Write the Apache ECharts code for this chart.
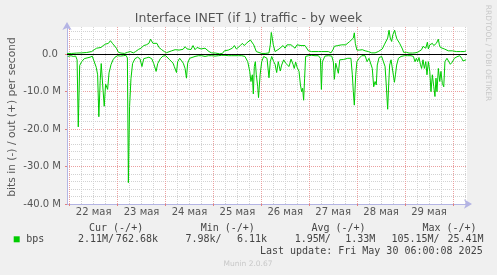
<!DOCTYPE html>
<html><head><meta charset="utf-8">
<script src="https://cdn.jsdelivr.net/npm/echarts@6/dist/echarts.min.js"></script>
<style>html,body{margin:0;padding:0;background:#f0f0f0}#c{width:497px;height:275px}</style>
</head><body><div id="c"></div>
<script>
// hours since 22 May 00:00, values in Mbit/s
const outHours = [-1.3,1.0,3.5,6.0,8.5,11.0,12.3,13.5,14.3,15.7,16.8,18.0,19.4,20.4,21.4,22.4,23.4,24.4,25.7,27.4,29.0,30.4,31.9,33.0,34.4,35.7,37.1,38.4,39.7,40.5,41.7,42.7,43.7,44.7,46.1,47.4,
  48.5,49.4,51.1,52.8,53.8,54.8,55.8,56.8,57.8,58.8,59.8,60.8,61.8,62.8,63.8,64.8,65.8,66.8,67.8,68.8,69.8,71.1,72.1,73.1,74.1,75.1,76.5,77.5,78.5,79.5,80.5,81.5,82.5,83.5,84.5,85.5,86.5,87.5,88.5,89.5,90.5,91.5,92.2,92.8,93.5,94.5,96.2,97.9,
  98.85,99.85,100.5,101.0,101.5,102.0,102.9,103.9,104.9,105.9,106.9,107.9,108.9,109.9,110.9,111.9,112.9,113.9,114.9,115.9,116.9,117.9,118.9,119.6,121.2,122.9,124.6,126.2,127.9,129.6,130.9,131.9,132.6,133.3,134.3,135.3,136.3,137.3,138.3,139.3,140.3,141.3,142.1,142.6,143.1,143.9,145.3,146.6,148.0,
  149.6,151.3,153.0,154.6,155.6,156.6,157.6,158.6,159.3,160.0,160.6,161.3,161.9,162.8,163.3,163.9,164.6,165.3,166.0,166.7,167.3,168.7,170.0,171.7,173.0,174.3,175.3,176.3,177.0,177.7,178.4,179.2,179.7,180.4,181.0,181.7,182.4,183.0,183.7,184.7,185.2,185.7,186.7,187.7,188.7,189.7,190.7,191.7,192.7,193.7,194.7,195.7,196.7,197.7,198.6];
const outMbps = [0.2,0.2,0.3,0.35,0.45,0.7,1.2,1.6,1.25,1.8,2.3,2.7,2.9,3.6,2.9,2.5,1.6,0.5,0.3,0.2,0.5,0.7,0.35,0.7,1.25,1.6,2.3,2.5,2.9,4.0,2.9,2.5,2.9,1.8,1.2,0.7,
  0.4,0.5,0.9,1.2,1.4,1.1,1.6,1.3,2.0,1.4,1.8,1.25,2.3,1.2,1.8,1.6,1.4,1.8,1.6,1.4,0.7,0.35,0.7,0.3,0.7,0.1,0.2,0.9,1.2,1.1,1.4,1.6,2.3,1.4,1.6,2.3,2.9,2.3,2.9,3.4,3.8,3.4,2.5,2.1,0.7,0.3,0.2,0.2,
  0.2,0.35,2.5,5.8,4.3,2.5,0.7,1.2,1.4,1.6,2.3,1.6,2.5,2.0,2.5,2.0,1.6,2.5,2.0,2.3,1.8,2.3,2.0,0.9,0.7,0.7,0.7,0.7,0.7,0.7,0.35,1.2,2.1,1.6,2.3,1.8,2.5,2.1,2.5,2.7,3.4,3.9,4.3,5.7,2.9,1.1,1.1,1.2,0.9,
  0.7,0.35,0.35,0.7,1.2,1.4,2.5,2.9,4.3,6.4,4.3,3.4,5.2,6.4,5.2,4.1,3.8,2.9,2.5,1.4,0.5,0.5,0.3,0.3,0.35,0.5,0.7,1.2,2.1,2.5,1.6,3.2,1.4,2.5,2.1,2.9,2.3,1.8,2.9,4.0,2.5,1.8,1.6,1.4,1.2,0.9,0.7,0.9,0.5,0.7,0.35,0.7,0.35,0.7,0.9];
const inHours = [-1.0,-0.35,0.65,1.8,3.0,3.7,4.3,5.0,6.0,7.3,8.7,10.2,11.3,12.3,13.3,14.0,14.6,15.3,15.8,16.5,17.3,18.0,18.5,19.0,19.7,20.7,21.7,22.7,24.0,25.4,26.9,28.2,28.9,29.4,30.0,30.7,31.5,32.7,34.0,35.2,36.2,37.1,38.4,39.7,41.1,42.1,43.3,44.1,45.4,46.7,
  48.1,49.1,50.1,50.8,51.8,52.4,53.5,54.1,55.1,56.1,56.9,57.8,58.5,59.1,60.1,61.1,62.8,64.5,66.1,67.8,69.5,71.1,72.8,74.5,76.1,77.8,79.5,81.2,82.8,84.5,86.2,87.8,89.2,90.2,90.8,91.5,92.0,92.5,93.0,93.5,94.2,94.6,95.4,96.2,97.2,
  97.85,98.85,99.85,100.5,101.2,102.2,102.9,103.7,104.5,105.5,106.2,107.2,108.2,109.2,109.9,110.9,111.9,112.5,113.2,114.0,114.9,115.6,116.2,116.7,117.2,117.7,118.2,119.6,121.2,122.9,124.6,125.6,126.1,126.6,127.9,129.6,131.3,132.1,132.6,133.3,133.9,134.6,135.3,136.3,137.3,138.3,139.3,140.3,140.9,141.6,142.1,142.6,143.3,143.9,145.0,146.3,
  148.0,149.0,149.95,150.95,151.6,152.3,153.0,153.6,154.1,155.0,156.3,157.3,158.0,158.6,159.3,159.8,160.3,161.0,162.0,162.7,163.2,163.8,164.7,166.0,167.7,169.3,171.0,172.2,173.0,173.7,174.3,175.0,175.7,176.3,177.0,177.7,178.4,179.0,179.7,180.4,181.0,181.7,182.4,183.0,183.5,184.0,184.7,185.4,186.0,186.7,187.4,188.0,189.0,190.0,190.7,191.7,192.7,194.0,195.4,196.4,197.0,197.7,198.6];
const inMbps = [-0.6,-1.1,-0.4,-0.6,-0.5,-1.5,-19.4,-3.0,-2.0,-1.2,-1.0,-0.8,-0.5,-1.0,-3.5,-5.5,-16.7,-7.0,-2.5,-8.0,-13.9,-8.0,-7.5,-9.4,-5.0,-2.8,-1.5,-0.8,-0.4,-0.5,-0.4,-0.3,-1.0,-34.3,-14.0,-6.5,-2.5,-1.2,-0.8,-1.2,-3.3,-1.2,-1.0,-0.8,-1.2,-2.5,-4.6,-2.5,-1.2,-0.5,
  -0.4,-0.6,-1.5,-1.1,-2.4,-3.3,-4.9,-2.0,-1.1,-1.8,-2.4,-3.8,-6.4,-2.4,-1.1,-0.6,-0.6,-0.4,-0.4,-0.6,-0.4,-0.4,-0.5,-0.4,-0.3,-0.3,-0.4,-0.4,-0.4,-0.4,-0.4,-0.6,-2.0,-4.6,-7.3,-5.5,-10.6,-3.3,-2.0,-5.5,-8.7,-11.6,-5.5,-2.0,-0.6,
  -0.4,-1.1,-6.3,-2.0,-0.6,-2.0,-2.7,-4.9,-2.0,-4.5,-2.9,-1.5,-2.4,-2.0,-3.3,-1.3,-2.7,-3.8,-2.1,-3.6,-4.6,-8.2,-10.0,-9.1,-12.3,-6.4,-0.6,-0.4,-0.3,-0.4,-0.4,-1.1,-9.4,-2.0,-0.5,-0.4,-0.5,-2.1,-6.7,-2.4,-2.9,-5.1,-1.5,-1.1,-1.4,-0.9,-1.1,-0.6,-1.1,-5.5,-10.0,-13.6,-5.5,-2.0,-1.1,-0.4,
  -0.4,-2.0,-1.1,-0.8,-3.8,-8.7,-7.3,-8.2,-2.9,-0.9,-0.6,-1.1,-3.3,-8.2,-14.7,-8.2,-2.9,-1.5,-2.0,-7.5,-5.5,-2.9,-1.1,-0.6,-0.4,-0.4,-0.4,-0.6,-2.0,-1.1,-2.0,-0.9,-2.7,-3.8,-1.5,-3.8,-2.0,-5.5,-2.0,-4.6,-10.0,-5.5,-8.7,-11.3,-6.4,-10.0,-3.8,-7.3,-4.6,-7.8,-8.7,-2.0,-1.1,-1.5,-2.7,-2.1,-1.1,-0.7,-0.4,-1.1,-1.8,-2.1,-1.5];
const dayNames = ['22 мая','23 мая','24 мая','25 мая','26 мая','27 мая','28 мая','29 мая'];
const legendHeaders = ['Cur (-/+)','Min (-/+)','Avg (-/+)','Max (-/+)'];
const legendIn = ['2.11M/','7.98k/','1.95M/','105.15M/'];
const legendOut = ['762.68k','6.11k','1.33M','25.41M'];
const seriesName = 'bps';
const lastUpdate = 'Last update: Fri May 30 06:00:08 2025';

const X_MIN = -1.35, X_MAX = 199.05, Y_MIN = -40, Y_MAX = 7.26;
const PLOT_L = 67, PLOT_R = 30, PLOT_T = 27, PLOT_B = 71, PLOT_W = 497 - PLOT_L - PLOT_R;
const pxPerHour = PLOT_W / (X_MAX - X_MIN);
const GREEN = '#00cc00';
const grayGrid = {color:'#d2d2d2', type:[1,1], width:1};
const redGrid = {color:'#eaa0a0', type:[1,1], width:1};
const axisBlue = '#b4b4e4';
const FONT = '"DejaVu Sans", sans-serif';
const MONO = '"DejaVu Sans Mono", monospace';

const chart = echarts.init(document.getElementById('c'), null, {renderer:'canvas'});
const hdrX = [89, 200.7, 311.4, 422.4];
const inX = [78, 185.4, 294.7, 391.4];
const outXr = [158, 267, 375.3, 483.6];
const graphic = [
  {type:'text', x:248.5, y:19, style:{text:'Interface INET (if 1) traffic - by week', font:'12.5px '+FONT, fill:'#555', align:'center', verticalAlign:'middle', textAlign:'center', textVerticalAlign:'middle'}},
  {type:'text', x:12, y:117, rotation:Math.PI/2, style:{text:'bits in (-) / out (+) per second', font:'10.7px '+FONT, fill:'#555', align:'center', verticalAlign:'middle', textAlign:'center', textVerticalAlign:'middle'}},
  {type:'text', x:488, y:53, rotation:-Math.PI/2, style:{text:'RRDTOOL / TOBI OETIKER', font:'7.5px '+FONT, fill:'#c8c8c8', align:'center', verticalAlign:'middle', textAlign:'center', textVerticalAlign:'middle'}},
  {type:'rect', shape:{x:13.7, y:236.3, width:6, height:6}, style:{fill:GREEN}},
  {type:'text', x:26.3, y:239.5, style:{text:seriesName, font:'10px '+MONO, fill:'#444', align:'left', verticalAlign:'middle', textAlign:'left', textVerticalAlign:'middle'}},
  {type:'text', x:482.7, y:251.7, style:{text:lastUpdate, font:'10px '+MONO, fill:'#444', align:'right', verticalAlign:'middle', textAlign:'right', textVerticalAlign:'middle'}},
  {type:'text', x:248, y:264, style:{text:'Munin 2.0.67', font:'7.5px '+FONT, fill:'#c8c8c8', align:'center', verticalAlign:'middle', textAlign:'center', textVerticalAlign:'middle'}}
];
legendHeaders.forEach((t,i)=>{
  graphic.push({type:'text', x:hdrX[i], y:228, style:{text:t, font:'10px '+MONO, fill:'#444', align:'left', verticalAlign:'middle', textAlign:'left', textVerticalAlign:'middle'}});
  graphic.push({type:'text', x:inX[i], y:239.5, style:{text:legendIn[i], font:'10px '+MONO, fill:'#444', align:'left', verticalAlign:'middle', textAlign:'left', textVerticalAlign:'middle'}});
  graphic.push({type:'text', x:outXr[i], y:239.5, style:{text:legendOut[i], font:'10px '+MONO, fill:'#444', align:'right', verticalAlign:'middle', textAlign:'right', textVerticalAlign:'middle'}});
});

// helper grids start exactly at midnight (h=0) and noon (h=12) so ticks counted from min fall on 6h/24h multiples
const hiddenY = gi => ({type:'value', gridIndex:gi, min:Y_MIN, max:Y_MAX, show:false, axisLine:{show:false}, splitLine:{show:false}, axisLabel:{show:false}, axisTick:{show:false}});
const gridMid = {left:PLOT_L + (0 - X_MIN)*pxPerHour, right:PLOT_R, top:PLOT_T, bottom:PLOT_B};
const gridNoon = {left:PLOT_L + (12 - X_MIN)*pxPerHour, right:PLOT_R + 12*pxPerHour, top:PLOT_T, bottom:PLOT_B};

const option = {
  animation:false,
  backgroundColor:'#f0f0f0',
  textStyle:{fontFamily:FONT},
  grid:[
    {left:PLOT_L, right:PLOT_R, top:PLOT_T, bottom:PLOT_B, show:true, backgroundColor:'#ffffff', borderWidth:0},
    gridMid, gridNoon
  ],
  xAxis:[
    {type:'value', gridIndex:0, min:X_MIN, max:X_MAX, position:'bottom',
     axisLine:{show:true, onZero:false, lineStyle:{color:axisBlue}, symbol:['none','arrow'], symbolSize:[7,8], symbolOffset:[0,5]},
     axisTick:{show:false}, axisLabel:{show:false}, splitLine:{show:false}},
    {type:'value', gridIndex:1, min:0, max:X_MAX, interval:6, position:'bottom',
     axisLine:{show:false, onZero:false}, axisTick:{show:false}, axisLabel:{show:false},
     splitLine:{show:true, showMinLine:false, showMaxLine:false, lineStyle:grayGrid}},
    {type:'value', gridIndex:1, min:0, max:X_MAX, interval:24, position:'bottom',
     axisLine:{show:false, onZero:false}, axisTick:{show:true, length:2, lineStyle:{color:'#e08080'}}, axisLabel:{show:false},
     splitLine:{show:true, showMinLine:true, showMaxLine:false, lineStyle:redGrid}},
    {type:'value', gridIndex:2, min:0, max:X_MAX-24, interval:24, position:'bottom',
     axisLine:{show:false, onZero:false}, axisTick:{show:false}, splitLine:{show:false},
     axisLabel:{show:true, showMinLabel:true, showMaxLabel:true, margin:3, color:'#555', fontSize:10, fontFamily:FONT,
       formatter:v=>{const i=Math.round(v/24); return (i>=0&&i<dayNames.length&&Math.abs(v-i*24)<0.01)?dayNames[i]:'';}}}
  ],
  yAxis:[
    {type:'value', gridIndex:0, min:Y_MIN, max:Y_MAX, interval:2, position:'left',
     axisLine:{show:true, onZero:false, lineStyle:{color:axisBlue}, symbol:['none','arrow'], symbolSize:[7,8], symbolOffset:[0,5]},
     axisTick:{show:false}, axisLabel:{show:false},
     splitLine:{show:true, showMinLine:false, showMaxLine:false, lineStyle:grayGrid}},
    {type:'value', gridIndex:0, min:Y_MIN, max:Y_MAX, interval:10, position:'left',
     axisLine:{show:false, onZero:false}, axisTick:{show:true, length:2, lineStyle:{color:'#e08080'}},
     axisLabel:{show:true, showMaxLabel:false, margin:6, color:'#555', fontSize:10, fontFamily:FONT,
       formatter:v=> v===0 ? '0.0 ' : (Math.abs(v-Math.round(v))<1e-6 ? v.toFixed(1)+' M' : '')},
     splitLine:{show:true, showMinLine:false, showMaxLine:false, lineStyle:redGrid}},
    hiddenY(1), hiddenY(2)
  ],
  series:[
    {type:'line', name:'out', xAxisIndex:0, yAxisIndex:0, data:outHours.map((h,i)=>[h,outMbps[i]]),
     showSymbol:false, symbol:'none', lineStyle:{color:GREEN, width:1}, itemStyle:{color:GREEN}, z:3},
    {type:'line', name:'in', xAxisIndex:0, yAxisIndex:0, data:inHours.map((h,i)=>[h,inMbps[i]]),
     showSymbol:false, symbol:'none', lineStyle:{color:GREEN, width:1}, itemStyle:{color:GREEN}, z:3,
     markLine:{silent:true, symbol:['none','none'], label:{show:false}, lineStyle:{color:'#000', width:1, type:'solid'}, data:[{yAxis:0}]}}
  ],
  graphic:graphic
};
chart.setOption(option);
</script>
</body></html>
